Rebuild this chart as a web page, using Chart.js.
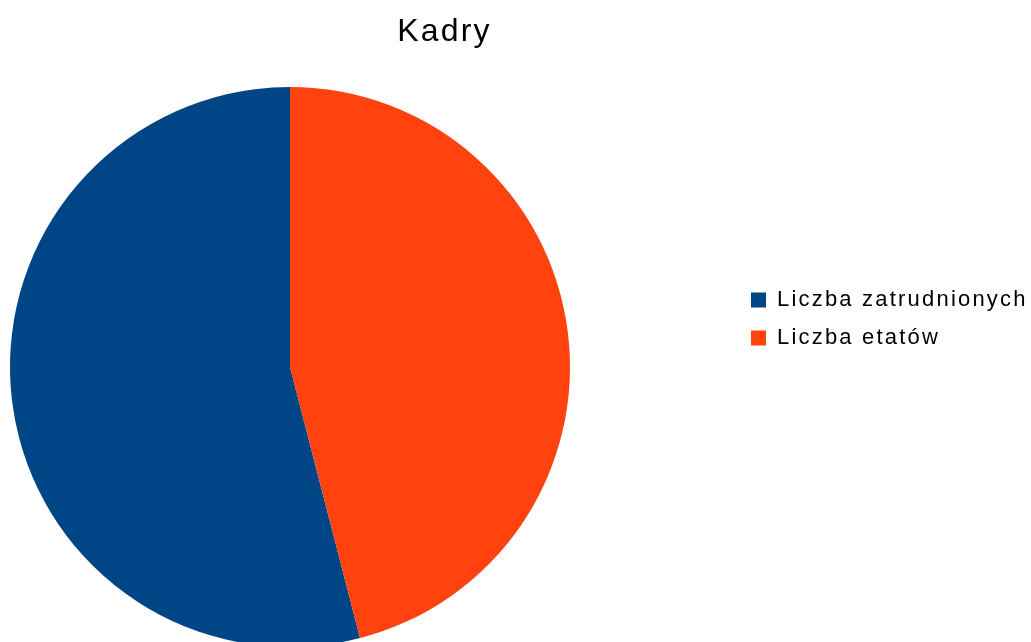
<!DOCTYPE html>
<html>
<head>
<meta charset="utf-8">
<script src="https://cdn.jsdelivr.net/npm/chart.js@4/dist/chart.umd.min.js"></script>
<style>
  html, body { margin: 0; padding: 0; background: #fff; overflow: hidden; }
  #wrap { position: relative; width: 1031px; height: 642px; }
</style>
</head>
<body>
<div id="wrap"><canvas id="c"></canvas></div>
<script>
const titleText = 'Kadry';
const categories = ['Liczba zatrudnionych', 'Liczba etatów'];
const values = [94, 80];
const colors = ['#004586', '#ff420e'];

const total = values.reduce((a, b) => a + b, 0);
const SPACING = '2.2px';

const layoutPlugin = {
  id: 'refLayout',
  beforeUpdate(chart) { chart.ctx.letterSpacing = SPACING; },
  beforeLayout(chart) { chart.ctx.letterSpacing = SPACING; },
  afterLayout(chart) {
    const t = chart.titleBlock;
    if (t) { t.left = 0; t.right = 889; }
    const l = chart.legend;
    if (l) {
      const w = Math.max(l.width, 320), h = l.height;
      l.width = w;
      l.left = 735; l.right = 735 + w;
      l.top = 273; l.bottom = 273 + h;
      if (l.options && l.options.maxWidth) {}
    }
    Object.assign(chart.chartArea, { left: 10, right: 570, top: 87, bottom: 647, width: 560, height: 560 });
  },
  beforeDraw(chart) { chart.ctx.letterSpacing = SPACING; }
};

new Chart(document.getElementById('c'), {
  type: 'pie',
  data: {
    labels: categories,
    datasets: [{
      data: values,
      backgroundColor: colors,
      borderWidth: 0,
      hoverOffset: 0
    }]
  },
  options: {
    responsive: true,
    maintainAspectRatio: false,
    animation: false,
    rotation: 360 * values[1] / total,
    events: [],
    plugins: {
      title: {
        display: true,
        text: titleText,
        color: '#000',
        font: { family: 'Liberation Sans', size: 32, weight: 'normal' },
        padding: { top: 13, bottom: 0 }
      },
      legend: {
        position: 'right',
        align: 'start',
        maxWidth: 400,
        labels: {
          color: '#000',
          font: { family: 'Liberation Sans', size: 22 },
          boxWidth: 15,
          boxHeight: 15,
          padding: 16
        }
      },
      tooltip: { enabled: false }
    }
  },
  plugins: [layoutPlugin]
});
</script>
</body>
</html>
